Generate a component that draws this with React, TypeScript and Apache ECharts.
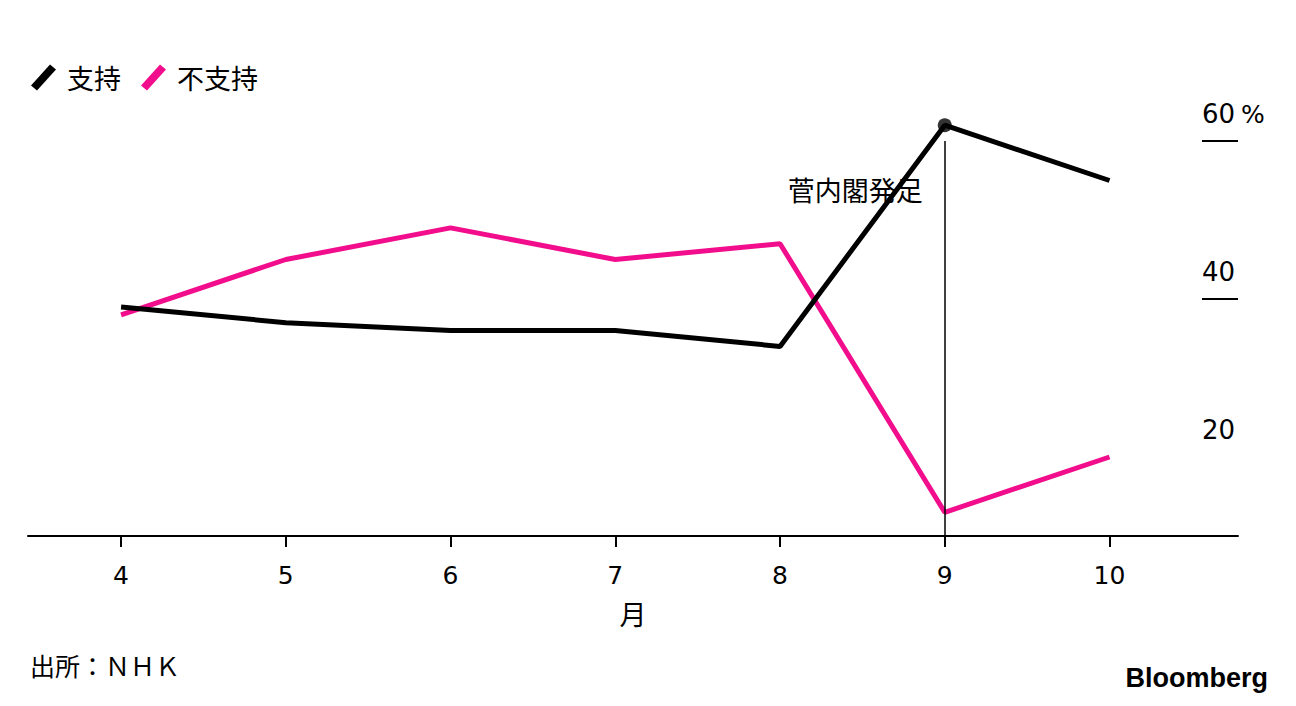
import React, { useEffect, useRef } from "react";
import * as echarts from "echarts";

const months = [4, 5, 6, 7, 8, 9, 10];
const support = [39, 37, 36, 36, 34, 62, 55];
const oppose = [38, 45, 49, 45, 47, 13, 20];
const yLabelValues = [20, 40, 60];
const yTickValues = [40, 60];
const eventMonth = 9;
const eventLabel = "菅内閣発足";
const seriesNames = ["支持", "不支持"];

const FONT = "'DejaVu Sans', 'Noto Sans CJK JP', sans-serif";
const CJK = "'Noto Sans CJK JP', 'DejaVu Sans', sans-serif";
const PINK = "#f20d8c";

export default function App() {
  const ref = useRef<HTMLDivElement>(null);
  useEffect(() => {
    if (!ref.current) return;
    const chart = echarts.init(ref.current, undefined, { renderer: "svg" });
    const icon = "path://M0,21 L19,0 L25,5 L6,26 Z";
    chart.setOption({
      animation: false,
      backgroundColor: "#fff",
      textStyle: { fontFamily: FONT, color: "#000" },
      legend: {
        left: 26,
        top: 59,
        itemWidth: 25,
        itemHeight: 26,
        itemGap: 20,
        icon,
        textStyle: { fontSize: 27, color: "#000", padding: [0, 0, 0, 6], fontFamily: CJK },
        data: seriesNames,
      },
      grid: { left: 28, right: 58, top: 141, bottom: 170 },
      xAxis: {
        type: "value",
        min: 3.435,
        max: 10.78,
        name: "月",
        nameLocation: "middle",
        nameGap: 64,
        nameTextStyle: { fontSize: 27, color: "#000", fontFamily: CJK },
        axisLine: { show: true, lineStyle: { color: "#000", width: 2 } },
        axisTick: { show: true, customValues: months, length: 11, lineStyle: { color: "#000", width: 2 } },
        axisLabel: { customValues: months, fontSize: 25, color: "#000", margin: 27, fontFamily: FONT },
        splitLine: { show: false },
      },
      yAxis: {
        type: "value",
        position: "right",
        min: 10,
        max: 60,
        axisLine: { show: false },
        axisTick: { show: true, inside: true, length: 36, customValues: yTickValues, lineStyle: { color: "#000", width: 2 } },
        axisLabel: {
          inside: true,
          customValues: yLabelValues,
          align: "left",
          verticalAlign: "bottom",
          margin: 36,
          padding: [0, 0, 14, 0],
          fontSize: 26,
          color: "#000",
          fontFamily: FONT,
          formatter: (v: number) => (v === 60 ? "60{p|%}" : String(v)),
          rich: { p: { fontSize: 25, color: "#000", padding: [0, 0, 0, 6], fontFamily: FONT } },
        },
        splitLine: { show: false },
      },
      series: [
        {
          name: seriesNames[0],
          type: "line",
          color: "#000",
          data: months.map((m, i) => [m, support[i]]),
          symbol: "none",
          clip: false,
          lineStyle: { color: "#000", width: 5 },
          z: 3,
          markLine: {
            silent: true,
            symbol: "none",
            lineStyle: { color: "#000", width: 1.5, type: "solid" },
            label: { show: false },
            data: [[{ coord: [eventMonth, 10] }, { coord: [eventMonth, 60] }]],
          },
          markPoint: {
            symbol: "circle",
            symbolSize: 0,
            label: {
              show: true,
              position: "left",
              distance: 22,
              formatter: eventLabel,
              fontSize: 27,
              color: "#000",
              fontFamily: CJK,
            },
            data: [{ coord: [eventMonth, 53.8] }],
          },
        },
        {
          name: seriesNames[1],
          type: "line",
          color: PINK,
          data: months.map((m, i) => [m, oppose[i]]),
          symbol: "none",
          clip: false,
          lineStyle: { color: PINK, width: 5 },
          z: 2,
        },
        {
          type: "scatter",
          data: [[eventMonth, support[5]]],
          symbol: "circle",
          symbolSize: 14,
          itemStyle: { color: "#000" },
          z: 4,
          clip: false,
        },
      ],
      graphic: [
        {
          type: "text",
          left: 30,
          top: 652,
          style: { text: "出所：ＮＨＫ", fontSize: 25, fill: "#000", fontFamily: CJK },
        },
        {
          type: "text",
          right: 28,
          top: 664,
          style: { text: "Bloomberg", fontSize: 27, fontWeight: "bold", fill: "#000", fontFamily: "'Liberation Sans', Arial, sans-serif" },
        },
      ],
    });
    return () => chart.dispose();
  }, []);
  return <div ref={ref} style={{ position: "fixed", left: 0, top: 0, width: 1296, height: 706 }} />;
}
